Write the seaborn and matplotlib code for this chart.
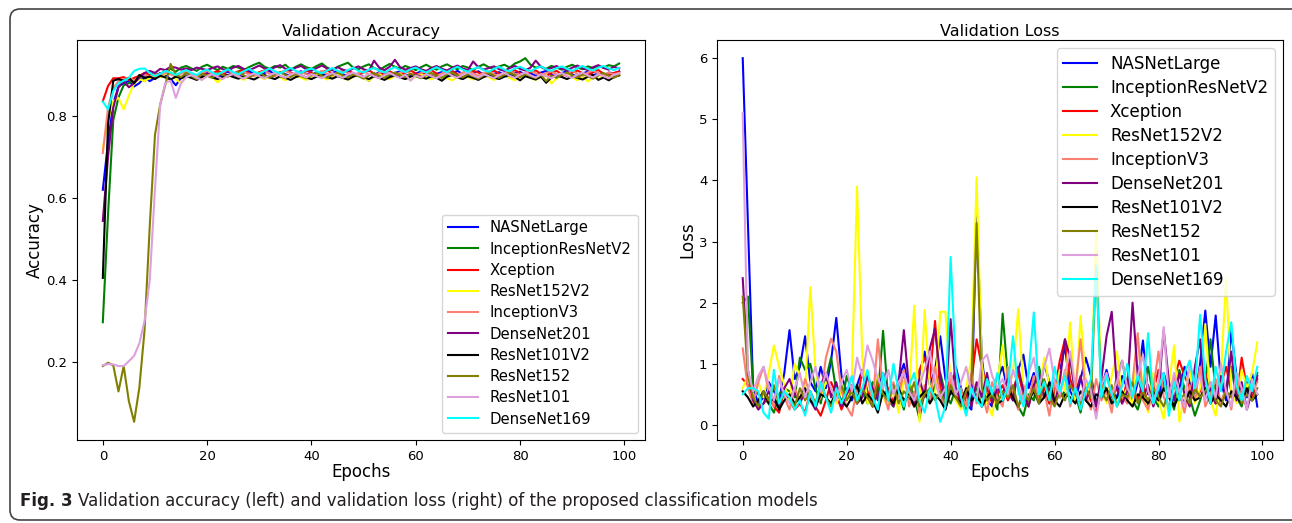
import numpy as np
import pandas as pd
import matplotlib
matplotlib.use("Agg")
import matplotlib.pyplot as plt
from matplotlib.patches import FancyBboxPatch
import seaborn as sns

models = ["NASNetLarge", "InceptionResNetV2", "Xception", "ResNet152V2", "InceptionV3",
          "DenseNet201", "ResNet101V2", "ResNet152", "ResNet101", "DenseNet169"]
colors = ["blue", "green", "red", "yellow", "salmon", "purple", "black", "olive", "plum", "cyan"]
epochs = list(range(100))

acc_nasnetlarge = [
    .620, .735, .830, .872, .880, .885, .872, .880, .895, .885,
    .893, .905, .900, .890, .875, .893, .905, .897, .890, .900,
    .905, .898, .893, .903, .908, .900, .896, .905, .910, .902,
    .898, .905, .910, .900, .906, .902, .897, .905, .909, .903,
    .900, .907, .903, .898, .905, .910, .902, .896, .904, .900,
    .895, .886, .900, .907, .903, .898, .905, .909, .901, .897,
    .904, .908, .900, .896, .903, .907, .899, .904, .910, .902,
    .898, .905, .909, .901, .897, .903, .907, .899, .894, .905,
    .908, .900, .904, .898, .906, .910, .900, .897, .905, .909,
    .901, .896, .904, .908, .900, .903, .898, .906, .904, .909]
acc_inceptionresnetv2 = [
    .297, .560, .790, .845, .875, .880, .888, .893, .885, .898,
    .905, .900, .912, .915, .908, .918, .922, .916, .910, .920,
    .925, .918, .912, .920, .915, .922, .918, .912, .919, .925,
    .930, .920, .915, .922, .918, .925, .913, .920, .926, .919,
    .915, .922, .928, .918, .912, .920, .925, .930, .918, .914,
    .921, .926, .917, .912, .920, .927, .920, .915, .922, .917,
    .912, .919, .925, .918, .913, .921, .926, .919, .914, .922,
    .918, .912, .920, .926, .919, .915, .921, .925, .918, .928,
    .933, .941, .925, .918, .920, .915, .922, .918, .913, .920,
    .925, .918, .914, .921, .917, .922, .918, .924, .921, .928]
acc_xception = [
    .836, .873, .892, .892, .895, .888, .893, .898, .905, .900,
    .895, .902, .908, .903, .899, .905, .910, .902, .898, .906,
    .900, .904, .910, .905, .897, .903, .909, .912, .904, .899,
    .907, .911, .903, .898, .905, .910, .906, .900, .904, .911,
    .905, .899, .906, .912, .903, .898, .907, .911, .904, .900,
    .906, .912, .903, .897, .905, .909, .902, .898, .906, .911,
    .904, .899, .907, .912, .903, .898, .906, .910, .902, .897,
    .905, .910, .906, .899, .904, .911, .903, .898, .906, .912,
    .904, .899, .907, .911, .903, .897, .905, .910, .902, .898,
    .906, .911, .904, .900, .907, .912, .903, .899, .905, .908]
acc_resnet152v2 = [
    .720, .790, .836, .844, .816, .850, .880, .890, .885, .893,
    .900, .895, .903, .908, .890, .880, .897, .902, .895, .888,
    .900, .895, .882, .893, .899, .903, .895, .888, .897, .902,
    .896, .890, .898, .903, .895, .887, .896, .901, .893, .888,
    .897, .902, .895, .889, .897, .903, .894, .888, .896, .901,
    .893, .886, .897, .902, .895, .890, .898, .903, .894, .888,
    .896, .902, .895, .889, .897, .900, .892, .887, .896, .902,
    .895, .889, .897, .903, .894, .888, .896, .901, .893, .887,
    .895, .901, .893, .888, .897, .899, .879, .892, .898, .902,
    .894, .887, .896, .884, .895, .890, .898, .893, .897, .899]
acc_inceptionv3 = [
    .710, .820, .868, .885, .890, .893, .887, .895, .900, .896,
    .903, .898, .906, .901, .897, .904, .909, .902, .898, .905,
    .910, .903, .899, .906, .911, .904, .899, .907, .902, .897,
    .905, .910, .903, .898, .906, .911, .904, .900, .907, .902,
    .898, .905, .910, .903, .899, .906, .911, .904, .898, .905,
    .909, .902, .897, .905, .910, .903, .899, .906, .910, .903,
    .898, .905, .909, .902, .897, .904, .910, .903, .899, .906,
    .911, .904, .898, .905, .909, .902, .897, .905, .910, .903,
    .899, .906, .911, .904, .898, .905, .909, .902, .897, .904,
    .910, .903, .898, .906, .911, .904, .899, .906, .902, .905]
acc_densenet201 = [
    .544, .700, .820, .870, .885, .870, .880, .893, .905, .910,
    .905, .915, .912, .920, .918, .913, .916, .912, .918, .915,
    .912, .917, .921, .914, .910, .918, .922, .915, .911, .917,
    .923, .916, .912, .919, .924, .915, .911, .918, .922, .914,
    .910, .917, .923, .916, .912, .919, .913, .909, .916, .921,
    .914, .910, .935, .918, .912, .920, .937, .919, .913, .917,
    .921, .914, .910, .917, .922, .915, .911, .918, .923, .916,
    .912, .933, .919, .913, .917, .921, .914, .910, .917, .922,
    .915, .911, .918, .935, .920, .913, .917, .922, .915, .911,
    .918, .923, .916, .912, .919, .924, .917, .913, .920, .916]
acc_resnet101v2 = [
    .405, .780, .886, .890, .886, .893, .880, .900, .893, .896,
    .890, .898, .894, .889, .896, .892, .897, .893, .888, .895,
    .899, .894, .890, .896, .900, .895, .891, .897, .893, .889,
    .896, .900, .894, .890, .897, .893, .888, .895, .899, .894,
    .890, .896, .900, .895, .891, .897, .893, .889, .896, .900,
    .895, .890, .897, .893, .888, .895, .899, .894, .890, .896,
    .900, .895, .891, .897, .893, .886, .896, .900, .894, .890,
    .897, .893, .888, .895, .899, .894, .890, .896, .900, .895,
    .887, .897, .893, .889, .896, .881, .894, .899, .895, .890,
    .897, .893, .889, .896, .900, .888, .894, .887, .895, .899]
acc_resnet152 = [
    .190, .198, .192, .128, .190, .104, .054, .137, .277, .532,
    .754, .828, .877, .927, .900, .895, .905, .897, .890, .902,
    .898, .893, .905, .900, .896, .903, .908, .899, .894, .902,
    .906, .898, .893, .901, .907, .900, .895, .903, .897, .892,
    .900, .905, .898, .893, .901, .906, .899, .894, .902, .897,
    .891, .899, .905, .898, .893, .901, .906, .900, .895, .903,
    .897, .892, .900, .905, .898, .893, .901, .906, .899, .894,
    .902, .897, .891, .899, .905, .898, .893, .901, .906, .900,
    .895, .903, .897, .892, .900, .885, .898, .893, .901, .906,
    .899, .894, .902, .897, .891, .899, .905, .898, .893, .901]
acc_resnet101 = [
    .192, .195, .194, .190, .190, .202, .215, .245, .300, .400,
    .622, .828, .881, .886, .844, .880, .895, .900, .893, .888,
    .897, .902, .895, .890, .898, .903, .896, .891, .899, .904,
    .897, .892, .900, .905, .898, .893, .901, .906, .899, .894,
    .902, .897, .892, .900, .905, .898, .893, .901, .906, .900,
    .895, .903, .897, .892, .900, .905, .898, .893, .901, .886,
    .899, .894, .902, .897, .892, .900, .905, .898, .893, .901,
    .906, .899, .894, .902, .897, .892, .900, .905, .898, .893,
    .901, .906, .899, .894, .902, .897, .892, .900, .905, .898,
    .893, .901, .906, .899, .894, .902, .897, .892, .900, .904]
acc_densenet169 = [
    .835, .816, .861, .880, .886, .893, .910, .915, .916, .905,
    .897, .903, .910, .906, .900, .907, .912, .905, .900, .909,
    .913, .906, .901, .908, .914, .907, .902, .909, .915, .908,
    .903, .910, .916, .909, .904, .911, .917, .910, .905, .912,
    .916, .909, .904, .911, .917, .910, .905, .912, .918, .910,
    .906, .913, .917, .911, .906, .913, .919, .912, .907, .914,
    .918, .911, .906, .913, .919, .912, .907, .914, .920, .913,
    .908, .915, .919, .912, .908, .915, .920, .913, .909, .916,
    .920, .914, .909, .916, .921, .914, .910, .917, .921, .915,
    .910, .917, .922, .915, .911, .918, .922, .916, .912, .918]

loss_nasnetlarge = [
    6.00, 3.30, 0.60, 0.35, 0.45, 0.70, 0.55, 0.40, 0.85, 1.55,
    0.75, 0.95, 1.45, 0.70, 0.55, 0.95, 0.60, 1.05, 1.75, 0.80,
    0.55, 0.40, 0.65, 0.90, 0.45, 0.30, 0.60, 0.85, 0.50, 0.35,
    0.75, 1.00, 0.60, 0.40, 0.80, 1.20, 0.65, 0.90, 1.45, 0.75,
    0.50, 0.95, 0.60, 0.35, 0.25, 3.50, 1.10, 0.40, 0.30, 0.75,
    0.95, 0.55, 0.40, 0.90, 1.15, 0.60, 0.85, 0.50, 1.00, 0.70,
    0.45, 0.85, 1.30, 0.55, 0.40, 0.75, 1.10, 0.80, 0.35, 0.60,
    0.90, 0.55, 0.45, 0.80, 0.60, 0.35, 0.70, 1.38, 0.50, 0.65,
    0.40, 0.85, 0.55, 0.30, 0.60, 0.95, 0.70, 0.45, 1.00, 1.87,
    0.95, 1.79, 0.70, 0.40, 1.55, 0.80, 0.55, 0.45, 0.85, 0.30]
loss_inceptionresnetv2 = [
    2.00, 2.10, 0.60, 0.50, 0.45, 0.35, 0.20, 0.50, 0.60, 0.55,
    0.45, 1.10, 0.90, 1.00, 0.60, 0.35, 0.75, 1.10, 0.55, 0.30,
    0.80, 0.55, 0.45, 0.60, 0.35, 0.70, 0.45, 1.54, 0.40, 0.30,
    0.55, 0.25, 0.70, 0.45, 0.10, 0.55, 0.40, 0.65, 0.85, 0.50,
    0.35, 0.60, 0.45, 0.25, 0.55, 0.60, 0.30, 0.50, 0.45, 0.25,
    1.82, 0.80, 0.45, 0.30, 0.15, 0.50, 0.40, 0.95, 0.60, 0.35,
    0.70, 0.45, 0.55, 1.10, 0.50, 0.20, 0.65, 0.40, 0.30, 0.75,
    0.55, 0.35, 0.80, 1.05, 0.60, 0.40, 0.25, 0.55, 0.95, 0.45,
    0.30, 0.70, 0.50, 0.25, 0.90, 0.60, 0.45, 0.15, 0.40, 0.70,
    1.40, 0.55, 0.35, 0.60, 0.95, 0.45, 0.30, 0.70, 0.40, 0.85]
loss_xception = [
    0.75, 0.65, 0.40, 0.30, 0.35, 0.45, 0.30, 0.20, 0.60, 0.40,
    0.25, 0.35, 0.20, 0.55, 0.30, 0.15, 0.40, 0.70, 0.50, 0.25,
    0.45, 0.60, 0.35, 0.90, 0.55, 0.30, 0.70, 0.45, 0.60, 0.35,
    0.55, 0.80, 0.45, 0.30, 0.90, 1.10, 0.75, 1.70, 0.60, 0.40,
    0.85, 0.55, 0.35, 0.45, 0.70, 1.40, 0.95, 0.60, 0.35, 0.50,
    0.65, 0.40, 0.55, 0.85, 0.50, 0.30, 0.70, 0.45, 0.60, 0.35,
    0.55, 1.05, 1.40, 0.75, 0.50, 0.30, 0.65, 0.40, 0.20, 0.55,
    0.85, 0.45, 0.60, 0.35, 0.75, 0.50, 0.40, 0.70, 0.30, 0.55,
    0.90, 0.60, 0.45, 0.75, 1.05, 0.80, 0.60, 0.40, 0.55, 0.85,
    0.50, 0.35, 0.65, 0.95, 0.55, 0.40, 1.10, 0.60, 0.45, 0.75]
loss_resnet152v2 = [
    0.60, 0.80, 0.55, 0.70, 0.45, 0.85, 1.30, 0.95, 0.65, 0.40,
    1.00, 0.80, 0.55, 2.25, 0.90, 0.45, 0.70, 0.60, 0.35, 0.55,
    0.40, 0.80, 3.90, 1.10, 0.35, 0.55, 0.80, 0.45, 0.30, 0.60,
    0.20, 0.75, 0.50, 1.95, 0.05, 1.88, 0.60, 0.45, 1.85, 1.85,
    0.70, 0.40, 0.25, 0.60, 1.10, 4.05, 1.00, 0.35, 0.15, 0.70,
    1.30, 0.55, 0.85, 1.89, 0.60, 0.35, 0.75, 0.50, 1.10, 0.65,
    0.40, 0.90, 0.55, 1.68, 0.35, 1.78, 0.70, 0.45, 3.20, 0.60,
    0.35, 0.80, 1.20, 0.45, 0.60, 0.30, 1.45, 0.55, 0.20, 0.85,
    0.40, 0.10, 0.65, 1.30, 0.05, 0.50, 0.90, 0.35, 0.60, 1.65,
    0.40, 0.15, 0.80, 2.40, 0.55, 0.35, 0.90, 0.60, 0.85, 1.35]
loss_inceptionv3 = [
    1.25, 0.60, 0.35, 0.70, 0.95, 0.55, 0.30, 0.80, 0.45, 0.25,
    0.60, 0.40, 0.75, 0.50, 0.30, 0.45, 1.10, 1.41, 1.20, 0.55,
    0.30, 0.15, 0.60, 0.45, 0.80, 0.35, 1.40, 0.55, 0.25, 0.70,
    0.45, 0.90, 0.30, 0.55, 0.20, 0.65, 0.40, 0.95, 0.50, 0.25,
    0.75, 0.45, 0.60, 0.30, 0.85, 0.35, 0.55, 0.20, 0.70, 0.45,
    0.30, 0.95, 0.50, 0.25, 0.65, 0.40, 0.80, 0.35, 0.55, 0.15,
    0.70, 0.45, 0.90, 0.30, 0.60, 1.40, 0.50, 0.25, 0.75, 0.40,
    0.55, 0.20, 0.85, 0.45, 0.35, 0.70, 1.50, 0.40, 0.25, 0.60,
    1.20, 0.45, 0.30, 0.75, 0.55, 0.20, 0.65, 0.40, 0.95, 0.30,
    0.50, 0.75, 0.35, 0.60, 0.25, 0.85, 0.45, 0.30, 0.55, 0.70]
loss_densenet201 = [
    2.40, 0.90, 0.40, 0.25, 0.35, 0.55, 0.40, 0.30, 0.60, 0.75,
    0.50, 0.35, 0.55, 0.40, 0.25, 0.65, 0.85, 0.45, 0.70, 0.30,
    0.50, 0.65, 0.35, 0.45, 0.80, 0.60, 0.40, 0.85, 0.50, 0.30,
    0.70, 1.55, 0.60, 0.35, 0.75, 0.45, 1.25, 1.57, 0.80, 0.35,
    1.73, 0.60, 0.40, 0.55, 0.30, 0.70, 0.45, 0.85, 0.35, 0.60,
    0.50, 0.75, 0.40, 0.95, 0.55, 0.30, 0.65, 0.85, 0.45, 0.60,
    0.35, 0.70, 1.40, 1.10, 0.50, 0.80, 0.40, 0.60, 0.30, 0.75,
    1.45, 1.85, 0.60, 0.35, 0.55, 2.00, 0.80, 0.45, 0.65, 0.30,
    0.55, 1.55, 0.70, 0.40, 0.85, 0.50, 0.30, 0.95, 1.40, 0.45,
    0.60, 0.35, 0.80, 0.50, 1.20, 0.40, 0.70, 0.25, 0.55, 0.80]
loss_resnet101v2 = [
    0.55, 0.45, 0.30, 0.40, 0.55, 0.35, 0.45, 0.25, 0.40, 0.50,
    0.35, 0.45, 0.60, 0.40, 0.30, 0.50, 0.45, 0.35, 0.55, 0.40,
    0.30, 0.45, 0.65, 0.35, 0.50, 0.40, 0.20, 0.55, 0.45, 0.35,
    0.60, 0.40, 0.50, 0.30, 0.45, 0.55, 0.35, 0.50, 0.40, 0.25,
    0.55, 0.45, 0.35, 0.60, 0.40, 0.50, 0.30, 0.45, 0.55, 0.35,
    0.40, 0.60, 0.45, 0.30, 0.50, 0.40, 0.55, 0.35, 0.45, 0.70,
    0.40, 0.30, 0.50, 0.45, 0.35, 0.55, 0.40, 0.30, 0.50, 0.45,
    0.60, 0.35, 0.45, 0.55, 0.40, 0.30, 0.50, 0.45, 0.35, 0.55,
    0.40, 0.60, 0.45, 0.30, 0.50, 0.35, 0.55, 0.40, 0.45, 0.60,
    0.35, 0.50, 0.40, 0.30, 0.55, 0.45, 0.35, 0.60, 0.40, 0.50]
loss_resnet152 = [
    2.10, 0.80, 0.45, 0.30, 0.55, 0.40, 0.65, 0.35, 0.50, 0.45,
    0.30, 0.60, 0.40, 0.55, 0.35, 0.70, 0.45, 0.30, 0.50, 0.65,
    0.40, 0.55, 0.35, 0.60, 0.45, 0.30, 0.75, 0.50, 0.40, 0.65,
    0.35, 0.55, 0.45, 0.70, 0.30, 0.50, 0.60, 0.40, 0.55, 0.35,
    0.65, 0.45, 0.30, 0.55, 0.70, 3.30, 0.60, 0.40, 0.50, 0.35,
    0.55, 0.45, 0.65, 0.30, 0.50, 0.40, 0.60, 0.35, 0.75, 0.45,
    0.30, 0.55, 0.40, 0.65, 0.50, 0.35, 0.60, 0.45, 2.60, 0.55,
    0.40, 0.65, 0.30, 0.50, 0.45, 0.70, 0.35, 0.55, 0.40, 0.60,
    0.45, 0.30, 0.55, 0.65, 0.40, 0.50, 0.35, 0.60, 0.45, 0.55,
    0.70, 0.40, 0.30, 0.55, 0.45, 0.65, 0.35, 0.50, 0.40, 0.60]
loss_resnet101 = [
    5.10, 0.90, 0.55, 0.80, 0.95, 0.65, 0.40, 0.75, 0.50, 0.35,
    0.60, 0.85, 0.45, 0.70, 0.95, 0.55, 0.85, 0.60, 0.40, 0.70,
    0.90, 0.55, 1.10, 0.80, 1.30, 1.05, 0.75, 0.60, 0.90, 0.50,
    0.70, 0.85, 0.55, 0.40, 0.65, 0.90, 1.20, 0.70, 0.45, 0.60,
    0.85, 0.50, 0.70, 0.95, 0.55, 0.40, 1.05, 1.15, 0.80, 0.60,
    0.75, 0.50, 0.90, 0.65, 0.40, 0.85, 1.10, 0.60, 0.95, 1.25,
    0.70, 0.50, 0.85, 1.20, 0.60, 0.40, 0.75, 0.55, 0.10, 0.65,
    0.85, 0.50, 0.70, 1.05, 0.60, 0.45, 0.80, 1.15, 0.55, 0.35,
    0.70, 1.60, 0.45, 0.85, 0.55, 0.30, 1.05, 0.60, 0.80, 0.40,
    0.70, 0.45, 1.00, 0.55, 0.30, 0.85, 0.60, 0.25, 0.75, 0.50]
loss_densenet169 = [
    0.50, 0.60, 0.60, 0.55, 0.20, 0.10, 0.90, 0.35, 0.55, 0.45,
    0.25, 0.40, 0.15, 0.55, 0.30, 0.70, 0.45, 0.20, 0.60, 0.35,
    0.55, 0.80, 0.40, 0.60, 0.90, 0.45, 0.25, 0.85, 0.40, 1.00,
    0.55, 0.30, 0.65, 0.85, 0.40, 0.20, 0.60, 0.45, 0.05, 0.30,
    2.75, 0.90, 0.45, 0.15, 0.60, 0.40, 0.30, 0.75, 0.50, 0.85,
    0.40, 0.60, 1.45, 0.55, 0.30, 0.85, 1.84, 0.50, 0.70, 0.40,
    0.95, 0.55, 0.80, 0.35, 0.60, 0.25, 0.55, 0.75, 2.60, 0.45,
    0.80, 0.50, 0.30, 0.65, 1.00, 0.45, 0.80, 0.55, 1.50, 0.35,
    0.60, 0.85, 0.15, 0.70, 0.40, 0.85, 1.05, 0.60, 1.80, 0.75,
    0.35, 0.95, 0.55, 1.20, 1.68, 0.65, 0.40, 0.80, 0.55, 0.95]

acc_series = [acc_nasnetlarge, acc_inceptionresnetv2, acc_xception, acc_resnet152v2,
              acc_inceptionv3, acc_densenet201, acc_resnet101v2, acc_resnet152,
              acc_resnet101, acc_densenet169]
loss_series = [loss_nasnetlarge, loss_inceptionresnetv2, loss_xception, loss_resnet152v2,
               loss_inceptionv3, loss_densenet201, loss_resnet101v2, loss_resnet152,
               loss_resnet101, loss_densenet169]

rows = []
for m, a, l in zip(models, acc_series, loss_series):
    for e, av, lv in zip(epochs, a, l):
        rows.append({"Model": m, "Epochs": e, "Accuracy": av, "Loss": lv})
df = pd.DataFrame(rows)
palette = dict(zip(models, colors))

fig = plt.figure(figsize=(12.92, 5.23), dpi=100)
ax1 = fig.add_axes([77 / 1292, 83 / 523, 568 / 1292, 400 / 523])
ax2 = fig.add_axes([717 / 1292, 83 / 523, 566 / 1292, 400 / 523])

for ax, col, title, loc, fs, ls in [(ax1, "Accuracy", "Validation Accuracy", "lower right", 10.7, 0.42),
                                    (ax2, "Loss", "Validation Loss", "upper right", 12, 0.36)]:
    sns.lineplot(data=df, x="Epochs", y=col, hue="Model", palette=palette,
                 hue_order=models, ax=ax, linewidth=1.5, estimator=None)
    ax.set_title(title, fontsize=11.5, pad=3)
    ax.set_xlabel("Epochs", fontsize=12, labelpad=0)
    ax.set_ylabel(col, fontsize=12, labelpad=2)
    ax.tick_params(labelsize=9.5)
    h, lab = ax.get_legend_handles_labels()
    ax.legend(h, lab, loc=loc, fontsize=fs, labelspacing=ls)
    ax.set_xticks([0, 20, 40, 60, 80, 100])

ax1.set_yticks([0.2, 0.4, 0.6, 0.8])
ax2.set_yticks([0, 1, 2, 3, 4, 5, 6])

# figure frame (in inches so the rounding is circular) and caption
frame = FancyBboxPatch((0.10, 0.03), 13.2, 5.11,
                       boxstyle="round,pad=0,rounding_size=0.1",
                       transform=fig.dpi_scale_trans, fill=False,
                       edgecolor="#444444", linewidth=1.2)
fig.patches.append(frame)

cap_font = "DejaVu Sans"
t1 = fig.text(20 / 1292, 1 - 506 / 523, "Fig. 3", fontsize=12, fontweight="bold",
              family=cap_font, va="baseline", color="#231f20")
fig.canvas.draw()
bb = t1.get_window_extent()
fig.text((bb.x1 + 5) / 1292, 1 - 506 / 523,
         "Validation accuracy (left) and validation loss (right) of the proposed classification models",
         fontsize=12, family=cap_font, va="baseline", color="#231f20")

fig.savefig("out.png", dpi=100)
